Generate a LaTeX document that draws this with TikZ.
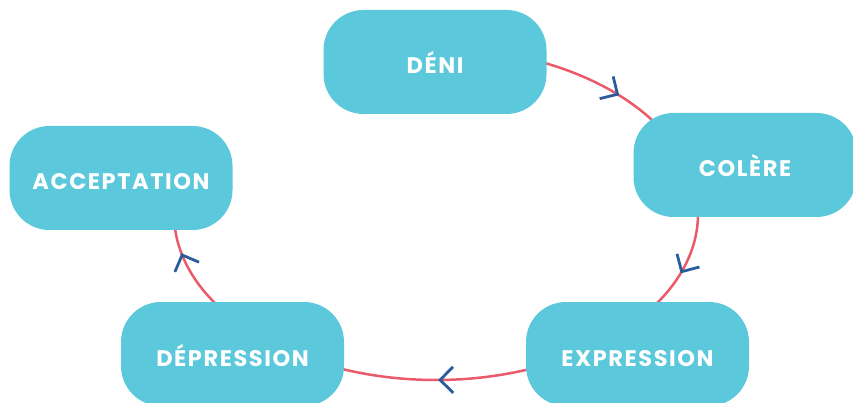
\documentclass[tikz,border=0pt]{standalone}
\usepackage{fontspec}
\usetikzlibrary{decorations.markings}
\newfontfamily\stagefont{Poppins}[LetterSpace=7]
\definecolor{stagecyan}{HTML}{5BC8DB}
\definecolor{cyclered}{HTML}{EA5A6A}
\definecolor{chevblue}{HTML}{2A5B9D}
\newcommand{\cycArc}[2]{arc[start angle=#1,end angle=#2,x radius=262,y radius=166]}

\begin{document}
\begin{tikzpicture}[x=1pt,y=-1pt,
  stage/.style={fill=stagecyan,rounded corners=40pt,minimum width=223pt,minimum height=104pt,
    inner sep=0pt,text=white,font=\stagefont\bfseries\fontsize{22.5}{22.5}\selectfont,
    text height=24pt,text depth=0pt},
  cycle/.style={draw=cyclered,line width=2.5pt,postaction=decorate,
    decoration={markings,mark=at position #1 with
      {\draw[chevblue,line width=2.8pt] (-13pt,13pt) -- (0pt,0pt) -- (-13pt,-13pt);}}}]
 \useasboundingbox (0,0) rectangle (853,403);
 \coordinate (hub) at (436,214);
 % the cycle, behind the stages
 \draw[cycle=0.58] (hub) ++(-76:262 and 166) \cycArc{-76}{-20};
 \draw[cycle=0.49] (hub) ++(-10:262 and 166) \cycArc{-10}{47};
 \draw[cycle=0.5]  (hub) ++(55:262 and 166)  \cycArc{55}{123};
 \draw[cycle=0.59] (hub) ++(140:262 and 166) \cycArc{140}{186};
 % stages
 \node[stage] (deni)   at (435,62)    {DÉNI};
 \node[stage] (colere) at (745,165)   {COLÈRE};
 \node[stage] (expr)   at (637.5,354) {EXPRESSION};
 \node[stage] (depr)   at (232.5,354) {DÉPRESSION};
 \node[stage] (accept) at (121,178)   {ACCEPTATION};
\end{tikzpicture}
\end{document}
